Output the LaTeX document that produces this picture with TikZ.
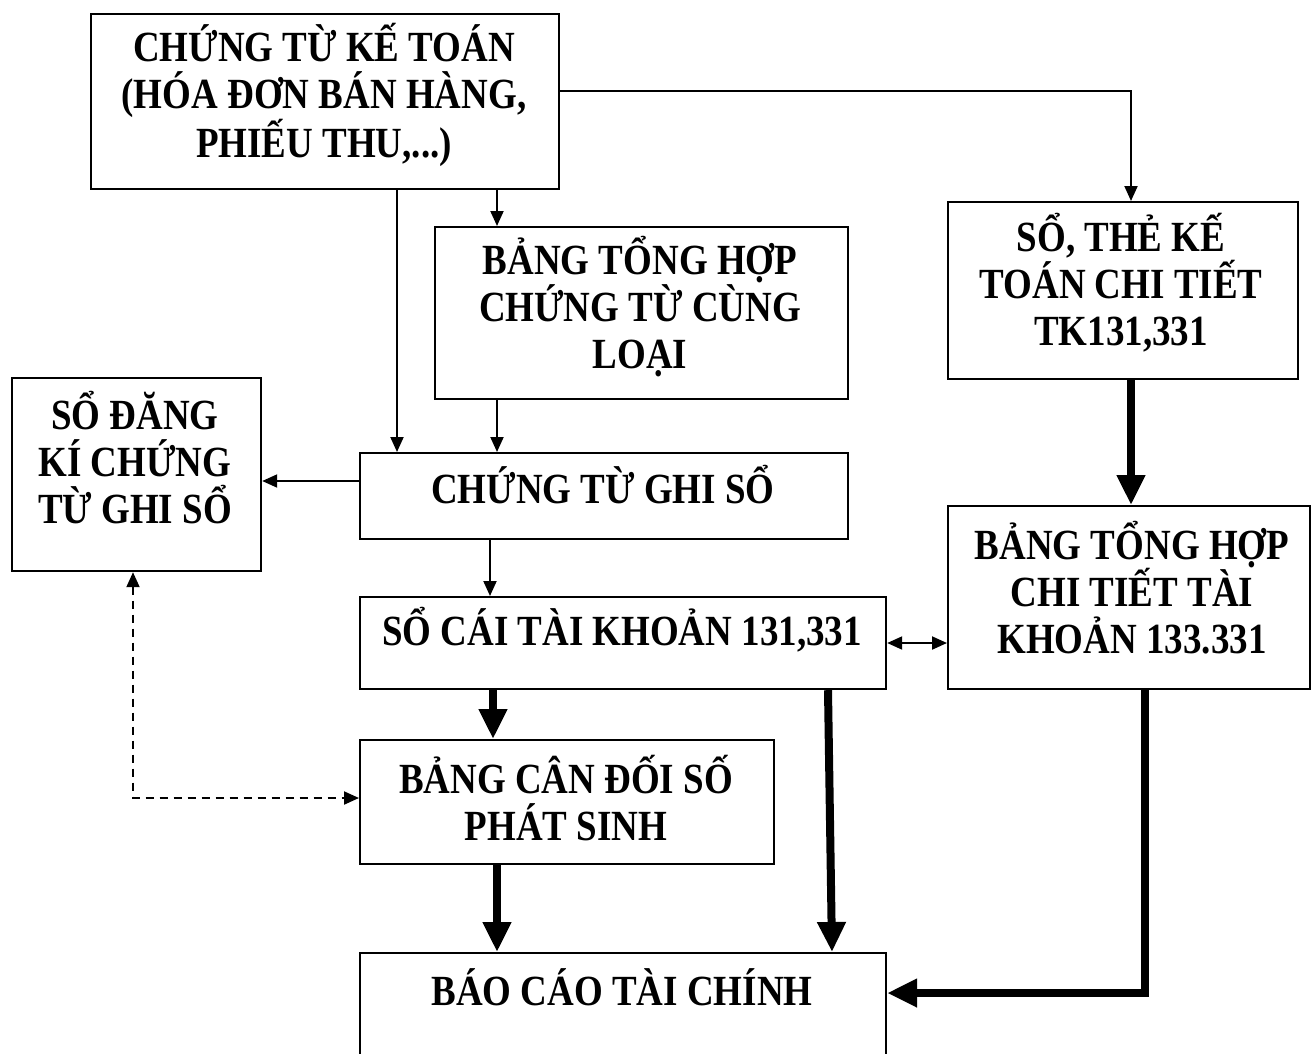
\documentclass[tikz,border=0pt]{standalone}
\usepackage{fontspec}
\setmainfont[FakeStretch=0.86]{Liberation Serif}
\usetikzlibrary{arrows.meta}
\begin{document}
\begin{tikzpicture}[x=1pt,y=-1pt,
  box/.style={draw, line width=2.2pt, rectangle, inner sep=0pt, anchor=north west},
  lbl/.style={font=\bfseries\fontsize{43}{47}\selectfont, align=center, inner sep=0pt},
  thinarrow/.style={line width=2pt, -{Triangle[length=15pt,width=13pt]}},
  thickarrow/.style={line width=8pt, line join=miter, -{Triangle[length=30pt,width=27pt]}},
]
\useasboundingbox (0,0) rectangle (1311,1053);
\clip (0,0) rectangle (1311,1053);

% boxes
\node[box, minimum width=468pt, minimum height=175pt] (ct)   at (90,13)  {};
\node[box, minimum width=413pt, minimum height=172pt] (bth)  at (434,226) {};
\node[box, minimum width=350pt, minimum height=177pt] (sct)  at (947,201) {};
\node[box, minimum width=249pt, minimum height=193pt] (sdk)  at (11,377)  {};
\node[box, minimum width=488pt, minimum height=86pt]  (ctgs) at (359,452) {};
\node[box, minimum width=362pt, minimum height=183pt] (thct) at (947,505) {};
\node[box, minimum width=526pt, minimum height=92pt]  (sc)   at (359,596) {};
\node[box, minimum width=414pt, minimum height=124pt] (cd)   at (359,739) {};
\node[box, minimum width=526pt, minimum height=130pt] (bc)   at (359,952) {};

% texts
\node[lbl] (tct)   at (324,95)   {CHỨNG TỪ KẾ TOÁN\\(HÓA ĐƠN BÁN HÀNG,\\PHIẾU THU,...)};
\node[lbl] (tbth)  at (640,307)  {BẢNG TỔNG HỢP\\CHỨNG TỪ CÙNG\\LOẠI};
\node[lbl] (tsct)  at (1121,283) {SỔ, THẺ KẾ\\TOÁN CHI TIẾT\\TK131,331};
\node[lbl] (tsdk)  at (135,458)  {SỔ ĐĂNG\\KÍ CHỨNG\\TỪ GHI SỔ};
\node[lbl] (tctgs) at (603,485)  {CHỨNG TỪ GHI SỔ};
\node[lbl] (tthct) at (1132,588) {BẢNG TỔNG HỢP\\CHI TIẾT TÀI\\KHOẢN 133.331};
\node[lbl] (tsc)   at (622,630)  {SỔ CÁI TÀI KHOẢN 131,331};
\node[lbl] (tcd)   at (566,798)  {BẢNG CÂN ĐỐI SỐ\\PHÁT SINH};
\node[lbl] (tbc)   at (622,987)  {BÁO CÁO TÀI CHÍNH};

% column and row helpers
\coordinate (c397) at (397,0);
\coordinate (c497) at (497,0);
\coordinate (c490) at (490,0);
\coordinate (c493) at (493,0);
\coordinate (c1131) at (1131,0);
\coordinate (c1145) at (1145,0);
\coordinate (c133) at (133,0);
\coordinate (r91) at (0,91);
\coordinate (r481) at (0,481);
\coordinate (r643) at (0,643);
\coordinate (r798) at (0,798);
\coordinate (r993) at (0,993);
\coordinate (scx) at (828,0);
\coordinate (bcx) at (832,0);

% thin connectors
\draw[thinarrow] (ct.south -| c397) -- (ctgs.north -| c397);
\draw[thinarrow] (ct.south -| c497) -- (bth.north -| c497);
\draw[thinarrow] (bth.south -| c497) -- (ctgs.north -| c497);
\draw[thinarrow] (ctgs.west |- r481) -- (sdk.east |- r481);
\draw[thinarrow] (ctgs.south -| c490) -- (sc.north -| c490);
\draw[thinarrow] (ct.east |- r91) -| (sct.north -| c1131);
\draw[line width=2pt, {Triangle[length=15pt,width=13pt]}-{Triangle[length=15pt,width=13pt]}]
  (sc.east |- r643) -- (thct.west |- r643);

% dashed connector
\draw[line width=2pt, dash pattern=on 8pt off 6pt,
  {Triangle[length=15pt,width=13pt]}-{Triangle[length=15pt,width=13pt]}]
  (sdk.south -| c133) |- (cd.west |- r798);

% thick connectors
\draw[thickarrow] (sct.south -| c1131) -- (thct.north -| c1131);
\draw[thickarrow] (sc.south -| c493) -- (cd.north -| c493);
\draw[thickarrow] (cd.south -| c497) -- (bc.north -| c497);
\draw[thickarrow] (sc.south -| scx) -- (bc.north -| bcx);
\draw[thickarrow] (thct.south -| c1145) |- (bc.east |- r993);
\end{tikzpicture}
\end{document}
